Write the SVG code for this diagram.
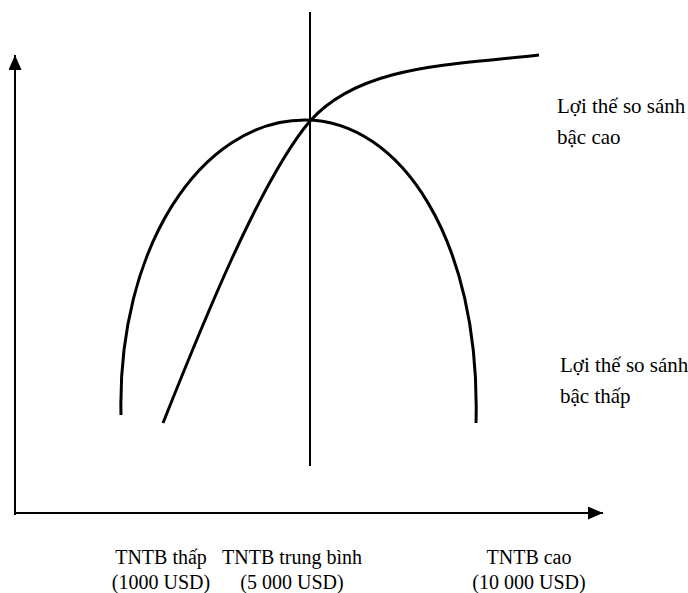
<svg xmlns="http://www.w3.org/2000/svg" width="688" height="593" viewBox="0 0 688 593">
<style>
.ln{fill:none;stroke:#000;stroke-width:3}
.ax{fill:none;stroke:#000;stroke-width:2}
text{font-family:"Liberation Serif","Times New Roman",serif;font-size:21px;fill:#000}
.c{text-anchor:middle;font-size:20px}
</style>
<defs>
<marker id="ah" markerWidth="16" markerHeight="14" refX="15" refY="6.5" orient="auto" markerUnits="userSpaceOnUse">
<path d="M0,0 L15,6.5 L0,13 Z" fill="#000"/>
</marker>
</defs>
<rect width="688" height="593" fill="#fff"/>
<g id="connectors">
<path id="y-axis" class="ax" d="M15,515 L15,55" marker-end="url(#ah)"/>
<path id="x-axis" class="ax" d="M15,513 L603,513" marker-end="url(#ah)"/>
<path id="vline" class="ax" d="M310,12 L310,466"/>
<path id="low-curve" class="ln" d="M121,415 C117,250 200,120 305,120 C400,120 481,240 476,423"/>
<path id="high-curve" class="ln" d="M163,423 C200,330 260,180 310,121 C360,65 450,65 539,55"/>
</g>
<g id="label-high">
<text x="557" y="113">Lợi thế so sánh</text>
<text x="557" y="144">bậc cao</text>
</g>
<g id="label-low">
<text x="560" y="372">Lợi thế so sánh</text>
<text x="560" y="403">bậc thấp</text>
</g>
<g id="tick-low">
<text class="c" x="161" y="564">TNTB thấp</text>
<text class="c" x="161" y="589">(1000 USD)</text>
</g>
<g id="tick-mid">
<text class="c" x="292" y="564">TNTB trung bình</text>
<text class="c" x="292" y="589">(5 000 USD)</text>
</g>
<g id="tick-high">
<text class="c" x="529" y="564">TNTB cao</text>
<text class="c" x="529" y="589">(10 000 USD)</text>
</g>
</svg>
